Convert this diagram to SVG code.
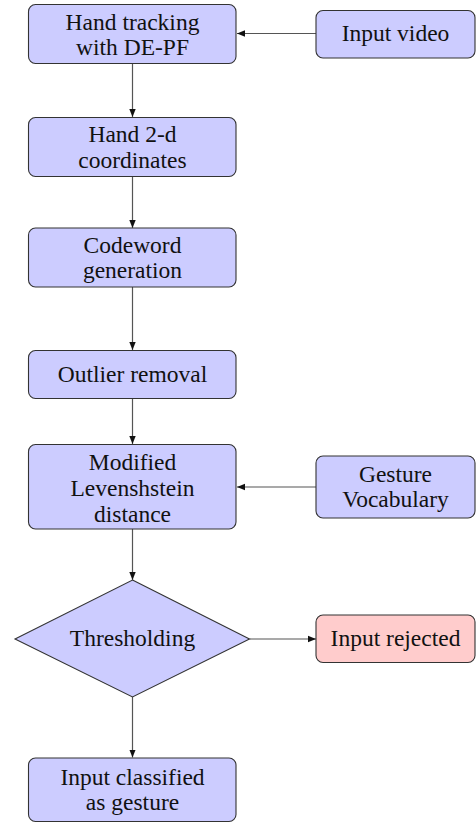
<svg xmlns="http://www.w3.org/2000/svg" width="476" height="823" viewBox="0 0 476 823">
  <style>
    .box { fill: #ccccff; stroke: #333333; stroke-width: 1.1; }
    .rej { fill: #ffcccc; stroke: #333333; stroke-width: 1.1; }
    .lbl { font-family: "Liberation Serif", "Times New Roman", serif; font-size: 23.5px; fill: #111111; text-anchor: middle; }
    .edge { stroke: #555555; stroke-width: 1.2; fill: none; marker-end: url(#arr); }
  </style>
  <defs>
    <marker id="arr" viewBox="0 0 10 10" refX="10" refY="5" markerWidth="8" markerHeight="8" markerUnits="userSpaceOnUse" orient="auto">
      <path d="M0,1 L10,5 L0,9 Z" fill="#111111"/>
    </marker>
  </defs>

  <g id="connectors">
    <line class="edge" x1="316" y1="33.5" x2="237" y2="33.5"/>
    <line class="edge" x1="132.5" y1="63.5" x2="132.5" y2="117"/>
    <line class="edge" x1="132.5" y1="177" x2="132.5" y2="228"/>
    <line class="edge" x1="132.5" y1="287" x2="132.5" y2="350"/>
    <line class="edge" x1="132.5" y1="398.5" x2="132.5" y2="444"/>
    <line class="edge" x1="316" y1="487" x2="237" y2="487"/>
    <line class="edge" x1="132.5" y1="529" x2="132.5" y2="580"/>
    <line class="edge" x1="249.5" y1="639" x2="316" y2="639"/>
    <line class="edge" x1="132.5" y1="697" x2="132.5" y2="757.5"/>
  </g>

  <g id="hand-tracking">
    <rect class="box" x="28.5" y="4.5" width="207.5" height="59" rx="7"/>
    <text class="lbl" x="132.5" y="29.5">Hand tracking</text>
    <text class="lbl" x="132.5" y="55">with DE-PF</text>
  </g>

  <g id="input-video">
    <rect class="box" x="316" y="10.5" width="159" height="47.5" rx="7"/>
    <text class="lbl" x="395.5" y="41">Input video</text>
  </g>

  <g id="hand-coords">
    <rect class="box" x="28.5" y="117.5" width="207.5" height="59" rx="7"/>
    <text class="lbl" x="132.5" y="142">Hand 2-d</text>
    <text class="lbl" x="132.5" y="167.5">coordinates</text>
  </g>

  <g id="codeword">
    <rect class="box" x="28.5" y="228" width="207.5" height="59" rx="7"/>
    <text class="lbl" x="132.5" y="252.5">Codeword</text>
    <text class="lbl" x="132.5" y="278">generation</text>
  </g>

  <g id="outlier">
    <rect class="box" x="28.5" y="350.5" width="207.5" height="48" rx="7"/>
    <text class="lbl" x="132.5" y="381.5">Outlier removal</text>
  </g>

  <g id="levenshtein">
    <rect class="box" x="28.5" y="444.5" width="207.5" height="84.5" rx="7"/>
    <text class="lbl" x="132.5" y="469.5">Modified</text>
    <text class="lbl" x="132.5" y="495.5">Levenshstein</text>
    <text class="lbl" x="132.5" y="521.5">distance</text>
  </g>

  <g id="vocabulary">
    <rect class="box" x="316" y="456" width="159" height="62" rx="7"/>
    <text class="lbl" x="395.5" y="481.5">Gesture</text>
    <text class="lbl" x="395.5" y="507">Vocabulary</text>
  </g>

  <g id="thresholding">
    <polygon class="box" points="132.5,580 249.5,639 132.5,697 15,639"/>
    <text class="lbl" x="132.5" y="646">Thresholding</text>
  </g>

  <g id="rejected">
    <rect class="rej" x="316" y="615" width="159" height="47.5" rx="7"/>
    <text class="lbl" x="395.5" y="645.5">Input rejected</text>
  </g>

  <g id="classified">
    <rect class="box" x="28.5" y="758" width="207.5" height="63.5" rx="7"/>
    <text class="lbl" x="132.5" y="784.5">Input classified</text>
    <text class="lbl" x="132.5" y="810">as gesture</text>
  </g>
</svg>
